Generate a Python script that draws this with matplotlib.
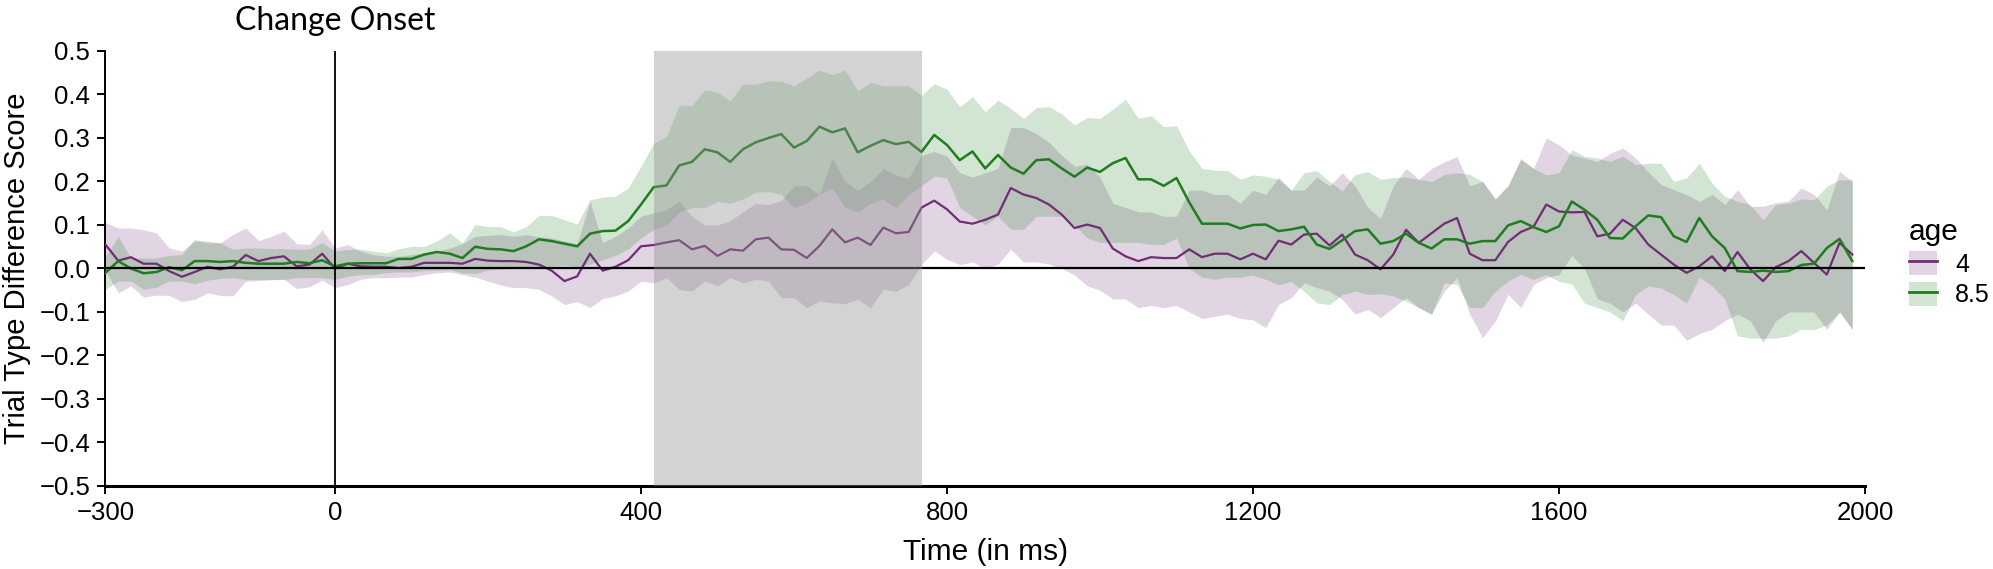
import numpy as np
import matplotlib
matplotlib.use('Agg')
import matplotlib.pyplot as plt
from matplotlib.patches import Patch
from matplotlib.lines import Line2D
from matplotlib.ticker import FuncFormatter

plt.rcParams['font.family'] = ['Liberation Sans', 'DejaVu Sans']

# age 4: mean difference score and ribbon limits (one value per 16.7 ms bin)
age4_mean = [
    0.055, 0.018, 0.026, 0.011, 0.011, -0.006, -0.019, -0.008, 0.004, -0.002, 0.004, 0.031,
    0.017, 0.024, 0.028, 0.005, 0.009, 0.034, 0.000, 0.011, 0.005, 0.004, 0.004, 0.001,
    0.004, 0.013, 0.013, 0.013, 0.011, 0.022, 0.018, 0.017, 0.017, 0.015, 0.009, -0.005,
    -0.029, -0.018, 0.034, -0.005, 0.004, 0.019, 0.051, 0.054, 0.060, 0.065, 0.044,
    0.052, 0.029, 0.044, 0.041, 0.067, 0.071, 0.044, 0.043, 0.024, 0.052, 0.090, 0.060,
    0.071, 0.054, 0.094, 0.081, 0.084, 0.140, 0.156, 0.136, 0.108,
    0.103, 0.112, 0.124, 0.185, 0.170, 0.162, 0.147, 0.124, 0.093, 0.101, 0.093, 0.046,
    0.028, 0.017, 0.026, 0.024, 0.024, 0.044, 0.026, 0.034, 0.034, 0.021, 0.034,
    0.021, 0.064, 0.055, 0.078, 0.080, 0.053, 0.078, 0.032, 0.019, -0.002, 0.032, 0.089,
    0.059, 0.081, 0.103, 0.116, 0.034, 0.019, 0.019, 0.061, 0.084, 0.096, 0.147,
    0.131, 0.129, 0.130, 0.074, 0.080, 0.112, 0.093, 0.055, 0.032, 0.009, -0.010, 0.005,
    0.028, -0.006, 0.038, -0.002, -0.029, 0.003, 0.017, 0.040, 0.013, -0.014, 0.059, 0.032,
]
age4_hi = [
    0.106, 0.093, 0.093, 0.089, 0.082, 0.047, 0.040, 0.063, 0.063, 0.059, 0.078, 0.093,
    0.064, 0.074, 0.086, 0.057, 0.055, 0.089, 0.047, 0.055, 0.040, 0.032, 0.028, 0.028,
    0.032, 0.036, 0.040, 0.047, 0.057, 0.074, 0.076, 0.078, 0.074, 0.078, 0.073, 0.070,
    0.063, 0.057, 0.154, 0.059, 0.074, 0.093, 0.120, 0.128, 0.135, 0.154, 0.120,
    0.100, 0.100, 0.110, 0.130, 0.150, 0.147, 0.156, 0.190, 0.190, 0.170, 0.254, 0.200,
    0.180, 0.200, 0.230, 0.215, 0.208, 0.260, 0.269, 0.258, 0.220,
    0.210, 0.220, 0.230, 0.324, 0.324, 0.310, 0.290, 0.260, 0.235, 0.240, 0.210, 0.150,
    0.140, 0.130, 0.130, 0.120, 0.120, 0.180, 0.180, 0.170, 0.170, 0.150, 0.180,
    0.170, 0.210, 0.180, 0.180, 0.210, 0.190, 0.220, 0.190, 0.140, 0.115, 0.190, 0.230,
    0.205, 0.230, 0.245, 0.257, 0.190, 0.200, 0.160, 0.190, 0.253, 0.230, 0.300,
    0.284, 0.261, 0.254, 0.246, 0.265, 0.277, 0.254, 0.222, 0.193, 0.181, 0.170, 0.154,
    0.170, 0.147, 0.181, 0.143, 0.143, 0.151, 0.155, 0.185, 0.170, 0.135, 0.223, 0.200,
]
age4_lo = [
    -0.005, -0.056, -0.040, -0.066, -0.061, -0.062, -0.076, -0.071, -0.056, -0.062, -0.063, -0.029,
    -0.028, -0.026, -0.025, -0.046, -0.042, -0.027, -0.044, -0.037, -0.025, -0.021, -0.021, -0.020,
    -0.020, -0.014, -0.010, -0.008, -0.014, -0.020, -0.029, -0.038, -0.044, -0.044, -0.048, -0.063,
    -0.083, -0.076, -0.090, -0.069, -0.063, -0.052, -0.029, -0.033, -0.021, -0.048, -0.052,
    -0.029, -0.040, -0.021, -0.033, -0.025, -0.029, -0.067, -0.067, -0.090, -0.075, -0.079, -0.081,
    -0.071, -0.090, -0.048, -0.052, -0.037, 0.009, 0.040, 0.021, 0.009,
    0.015, 0.000, 0.010, 0.044, 0.015, 0.015, 0.010, 0.000, -0.015, -0.040, -0.050, -0.070,
    -0.070, -0.090, -0.085, -0.090, -0.085, -0.100, -0.115, -0.110, -0.105, -0.115, -0.118,
    -0.136, -0.083, -0.067, -0.033, -0.044, -0.052, -0.071, -0.105, -0.094, -0.113, -0.090, -0.067,
    -0.090, -0.105, -0.052, -0.021, -0.105, -0.159, -0.121, -0.059, -0.090, -0.037, -0.021,
    -0.014, 0.030, 0.000, -0.070, -0.080, -0.100, -0.080, -0.105, -0.130, -0.130, -0.165, -0.150,
    -0.140, -0.120, -0.105, -0.120, -0.170, -0.120, -0.100, -0.100, -0.100, -0.140, -0.100, -0.140,
]

# age 8.5
age85_mean = [
    -0.010, 0.017, 0.000, -0.011, -0.008, 0.003, -0.004, 0.017, 0.017, 0.015, 0.017, 0.013,
    0.011, 0.011, 0.011, 0.015, 0.012, 0.019, 0.005, 0.011, 0.012, 0.012, 0.012, 0.022,
    0.022, 0.032, 0.038, 0.034, 0.024, 0.050, 0.045, 0.044, 0.040, 0.051, 0.067, 0.063,
    0.057, 0.051, 0.080, 0.086, 0.087, 0.109, 0.147, 0.187, 0.191, 0.237, 0.245,
    0.274, 0.267, 0.245, 0.274, 0.290, 0.300, 0.309, 0.278, 0.293, 0.326, 0.313, 0.322,
    0.267, 0.282, 0.295, 0.286, 0.291, 0.268, 0.307, 0.284, 0.249,
    0.269, 0.230, 0.261, 0.232, 0.218, 0.249, 0.251, 0.230, 0.211, 0.232, 0.222, 0.242,
    0.254, 0.205, 0.205, 0.190, 0.208, 0.152, 0.103, 0.103, 0.103, 0.092, 0.100,
    0.101, 0.086, 0.090, 0.096, 0.055, 0.045, 0.065, 0.086, 0.090, 0.057, 0.063, 0.080,
    0.059, 0.046, 0.067, 0.067, 0.057, 0.063, 0.063, 0.099, 0.109, 0.095, 0.084,
    0.097, 0.154, 0.135, 0.112, 0.070, 0.069, 0.097, 0.122, 0.118, 0.074, 0.061, 0.116,
    0.074, 0.047, -0.006, -0.008, -0.005, -0.008, -0.006, 0.008, 0.011, 0.047, 0.068, 0.017,
]
age85_hi = [
    0.028, 0.074, 0.024, 0.024, 0.024, 0.030, 0.032, 0.067, 0.059, 0.059, 0.044, 0.047,
    0.047, 0.046, 0.046, 0.044, 0.045, 0.059, 0.040, 0.044, 0.044, 0.040, 0.036, 0.045,
    0.051, 0.051, 0.063, 0.082, 0.059, 0.101, 0.096, 0.096, 0.084, 0.096, 0.122, 0.122,
    0.112, 0.102, 0.158, 0.164, 0.166, 0.185, 0.235, 0.288, 0.304, 0.375, 0.375,
    0.411, 0.405, 0.385, 0.424, 0.424, 0.431, 0.431, 0.420, 0.438, 0.456, 0.445, 0.456,
    0.408, 0.428, 0.420, 0.420, 0.420, 0.398, 0.425, 0.412, 0.372,
    0.395, 0.360, 0.387, 0.368, 0.345, 0.370, 0.372, 0.355, 0.330, 0.347, 0.345, 0.366,
    0.389, 0.345, 0.351, 0.326, 0.328, 0.270, 0.230, 0.226, 0.225, 0.205, 0.215,
    0.212, 0.205, 0.180, 0.220, 0.225, 0.200, 0.178, 0.216, 0.223, 0.205, 0.209, 0.210,
    0.205, 0.200, 0.216, 0.220, 0.216, 0.200, 0.160, 0.190, 0.250, 0.230, 0.215,
    0.220, 0.273, 0.258, 0.254, 0.246, 0.258, 0.239, 0.242, 0.242, 0.200, 0.208, 0.242,
    0.196, 0.166, 0.154, 0.147, 0.112, 0.147, 0.150, 0.160, 0.158, 0.189, 0.204, 0.204,
]
age85_lo = [
    -0.048, -0.029, -0.029, -0.048, -0.043, -0.029, -0.029, -0.035, -0.027, -0.023, -0.021, -0.025,
    -0.025, -0.025, -0.025, -0.021, -0.021, -0.021, -0.025, -0.018, -0.014, -0.014, -0.010, -0.008,
    -0.008, -0.005, -0.004, -0.003, -0.010, -0.012, -0.004, -0.002, 0.000, 0.002, 0.004, 0.006,
    0.008, 0.004, 0.010, 0.020, 0.030, 0.045, 0.070, 0.090, 0.100, 0.130, 0.140,
    0.140, 0.154, 0.150, 0.160, 0.175, 0.177, 0.171, 0.140, 0.150, 0.170, 0.185, 0.140,
    0.130, 0.150, 0.160, 0.140, 0.170, 0.190, 0.212, 0.208, 0.140,
    0.120, 0.100, 0.120, 0.090, 0.090, 0.120, 0.120, 0.120, 0.100, 0.070, 0.060, 0.060,
    0.060, 0.060, 0.055, 0.055, 0.070, 0.000, -0.020, -0.025, -0.020, -0.020, -0.015,
    -0.025, -0.037, -0.030, -0.052, -0.079, -0.083, -0.060, -0.052, -0.060, -0.058, -0.063, -0.075,
    -0.090, -0.105, -0.033, -0.037, -0.090, -0.090, -0.052, -0.029, -0.014, -0.025, -0.014,
    -0.030, -0.035, -0.080, -0.090, -0.100, -0.120, -0.060, -0.040, -0.045, -0.060, -0.080, -0.020,
    -0.040, -0.070, -0.155, -0.160, -0.160, -0.160, -0.155, -0.140, -0.140, -0.130, -0.100, -0.140,
]

bin_ms = 50 / 3
time_ms = -300 + bin_ms * np.arange(len(age4_mean))

window = (416.7, 766.7)
x_ticks = [-300, 0, 400, 800, 1200, 1600, 2000]
y_ticks = [-0.5, -0.4, -0.3, -0.2, -0.1, 0.0, 0.1, 0.2, 0.3, 0.4, 0.5]

purple = '#702d74'
green = '#1e7d1e'

fig = plt.figure(figsize=(19.93, 5.69), dpi=100)
ax = fig.add_axes([0.0529, 0.1459, 0.8829, 0.7645])

ax.fill_between(time_ms, age4_lo, age4_hi, color=purple, alpha=0.2, lw=0, zorder=2)
ax.fill_between(time_ms, age85_lo, age85_hi, color=green, alpha=0.2, lw=0, zorder=2)
ax.plot(time_ms, age4_mean, color=purple, lw=1.6, zorder=3)
ax.plot(time_ms, age85_mean, color=green, lw=1.8, zorder=3)

ax.axhline(0, color='black', lw=1.6, zorder=4)
ax.axvline(0, color='black', lw=1.3, zorder=4)
ax.axvspan(*window, color='#919191', alpha=0.4, lw=0, zorder=5)

ax.text(0, 1.048, 'Change Onset', transform=ax.get_xaxis_transform(),
        ha='center', va='baseline', fontsize=23, family=['Lato', 'DejaVu Sans'])

ax.set_xlim(-300, 2000)
ax.set_ylim(-0.5, 0.5)
ax.set_xticks(x_ticks)
ax.set_yticks(y_ticks)
ax.yaxis.set_major_formatter(FuncFormatter(lambda v, p: f'{v:.1f}'.replace('-', '\u2212')))
ax.tick_params(length=6, width=1.4, pad=5, labelsize=18.5, colors='black')

for side in ['top', 'right']:
    ax.spines[side].set_visible(False)
ax.spines['left'].set_linewidth(1.4)
ax.spines['bottom'].set_linewidth(2.2)

ax.set_xlabel('Time (in ms)', fontsize=21.5, labelpad=9)
ax.set_ylabel('Trial Type Difference Score', fontsize=21, labelpad=6)

handles = [(Patch(facecolor=purple, alpha=0.2, lw=0), Line2D([], [], color=purple, lw=2)),
           (Patch(facecolor=green, alpha=0.2, lw=0), Line2D([], [], color=green, lw=2))]
leg = ax.legend(handles, ['4', '8.5'], title='age', loc='upper left',
                bbox_to_anchor=(1909 / 1993, 1 - 218 / 569), bbox_transform=fig.transFigure,
                frameon=False, fontsize=18, title_fontsize=21.5, alignment='left',
                handlelength=1.1, handleheight=1.1, handletextpad=0.75,
                labelspacing=0.2, borderpad=0, borderaxespad=0)

fig.savefig('out.png', dpi=100)
